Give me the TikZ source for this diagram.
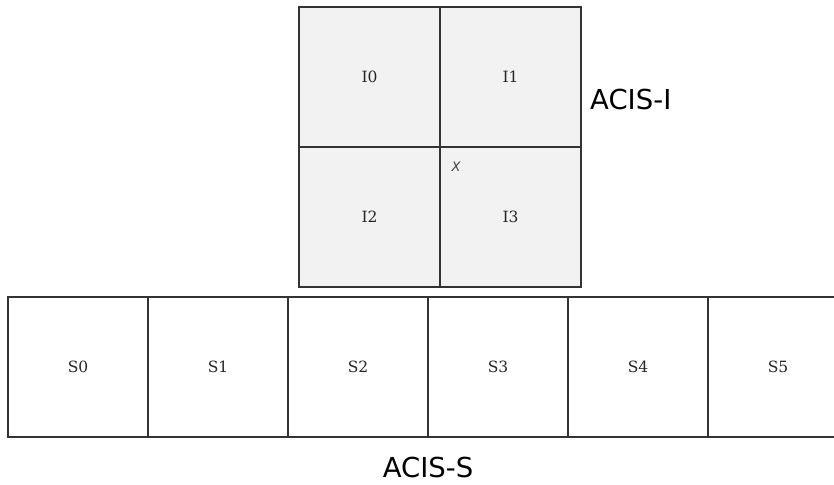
\documentclass[tikz,border=0pt]{standalone}
\usepackage{fontspec}
\newfontfamily\chipfont{DejaVu Serif}
\newfontfamily\titlefont{DejaVu Sans}
\usetikzlibrary{positioning}
\definecolor{chipline}{HTML}{333333}
\definecolor{ichipfill}{HTML}{F2F2F2}
\begin{document}
\begin{tikzpicture}[x=1pt,y=-1pt,
  chipbase/.style={draw=chipline, line width=1.2pt, rectangle, inner sep=0pt,
    font=\chipfont\fontsize{15.5}{17}\selectfont, text=black!85},
  ichip/.style={chipbase, fill=ichipfill, minimum width=141pt, minimum height=140pt},
  schip/.style={chipbase, fill=white, minimum width=140pt, minimum height=140pt},
  arraylabel/.style={font=\titlefont\fontsize{27.5}{30}\selectfont, text=black, inner sep=0pt},
  marklabel/.style={font=\titlefont\itshape\fontsize{13}{15}\selectfont, text=black!75, inner sep=0pt}]
\useasboundingbox (0,0) rectangle (834,484);
% ACIS-I chips
\node[ichip] (I0) at (369.5,77) {I0};
\node[ichip] (I1) at (510.5,77) {I1};
\node[ichip] (I2) at (369.5,217) {I2};
\node[ichip] (I3) at (510.5,217) {I3};
\node[marklabel] (X) at (456,167) {X};
% ACIS-S chips
\node[schip] (S0) at (78,367) {S0};
\node[schip] (S1) at (218,367) {S1};
\node[schip] (S2) at (358,367) {S2};
\node[schip] (S3) at (498,367) {S3};
\node[schip] (S4) at (638,367) {S4};
\node[schip] (S5) at (778,367) {S5};
% array labels
\node[arraylabel, anchor=west] (ACISI) at (590,99) {ACIS-I};
\node[arraylabel] (ACISS) at (428,467) {ACIS-S};
\end{tikzpicture}
\end{document}
